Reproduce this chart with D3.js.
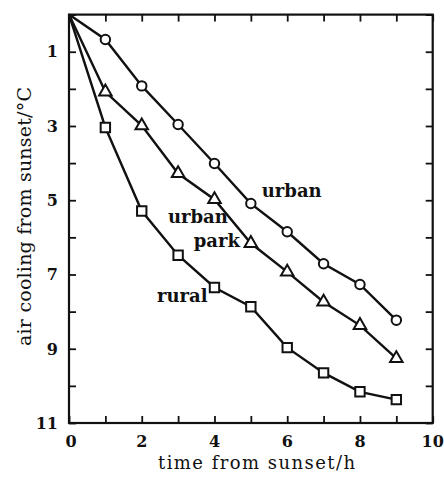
<!DOCTYPE html>
<html>
<head>
<meta charset="utf-8">
<script src="https://cdn.jsdelivr.net/npm/d3@7"></script>
<style>
    body { margin: 0; background: #fff; }
    svg { display: block; }
    text { font-family: "DejaVu Serif", serif; fill: #111; }
</style>
</head>
<body>
<div id="chart"></div>
<script>
// hours after sunset and the cooling of the air (°C) at each site
const hours = [0, 1, 2, 3, 4, 5, 6, 7, 8, 9];
const urban = [0, 0.67, 1.92, 2.96, 4.01, 5.09, 5.85, 6.71, 7.27, 8.23];
const urbanPark = [0, 2.08, 2.99, 4.28, 4.98, 6.16, 6.93, 7.74, 8.37, 9.26];
const rural = [0, 3.04, 5.29, 6.48, 7.35, 7.87, 8.97, 9.65, 10.16, 10.37];

const xTicks = [0, 1, 2, 3, 4, 5, 6, 7, 8, 9, 10];
const xTickLabels = [0, 2, 4, 6, 8, 10];
const yTicks = [0, 1, 2, 3, 4, 5, 6, 7, 8, 9, 10, 11];
const yTickLabels = [1, 3, 5, 7, 9, 11];

const seriesNames = ['urban', 'urban park', 'rural'];
const seriesSymbols = [d3.symbolCircle, d3.symbolTriangle, d3.symbolSquare];

// in-plot labels, placed in data units
const labelText = ['urban', 'urban', 'park', 'rural'];
const labelX = [5.3, 2.72, 3.43, 2.42];
const labelY = [4.9, 5.62, 6.25, 7.73];

const width = 444, height = 481;
const margin = {top: 14.6, right: 11.3, bottom: 58, left: 69};

const svg = d3.select('#chart').append('svg')
    .attr('width', width)
    .attr('height', height);

const x = d3.scaleLinear()
    .domain([0, 10])
    .range([margin.left, width - margin.right]);

const y = d3.scaleLinear()
    .domain([0, 11])
    .range([margin.top, height - margin.bottom]);

// frame
svg.append('rect')
    .attr('x', x(0))
    .attr('y', y(0))
    .attr('width', x(10) - x(0))
    .attr('height', y(11) - y(0))
    .attr('fill', 'none')
    .attr('stroke', '#111')
    .attr('stroke-width', 2.2);

// ticks point inward on every side
const tickLen = 7;
const axes = [
    d3.axisBottom(x).tickValues(xTicks).tickSize(-tickLen),
    d3.axisTop(x).tickValues(xTicks).tickSize(-tickLen),
    d3.axisLeft(y).tickValues(yTicks).tickSize(-tickLen),
    d3.axisRight(y).tickValues(yTicks).tickSize(-tickLen)
];
const shifts = [
    `translate(0,${y(11)})`,
    `translate(0,${y(0)})`,
    `translate(${x(0)},0)`,
    `translate(${x(10)},0)`
];
axes.forEach((ax, i) => {
    const g = svg.append('g')
        .attr('transform', shifts[i])
        .call(ax.tickSizeOuter(0).tickFormat(''));
    g.select('.domain').remove();
    g.selectAll('.tick line').attr('stroke', '#111').attr('stroke-width', 1.8);
});

// tick labels
svg.append('g').selectAll('text')
    .data(xTickLabels)
    .join('text')
        .attr('x', d => x(d) + (d === 0 ? 2 : 0))
        .attr('y', 447)
        .attr('text-anchor', 'middle')
        .attr('font-size', 16)
        .attr('font-weight', 'bold')
        .text(d => d);

svg.append('g').selectAll('text')
    .data(yTickLabels)
    .join('text')
        .attr('x', 58)
        .attr('y', d => y(d))
        .attr('dy', '0.36em')
        .attr('text-anchor', 'end')
        .attr('font-size', 16)
        .attr('font-weight', 'bold')
        .text(d => d);

// axis titles
svg.append('text')
    .attr('x', 256.5)
    .attr('y', 469)
    .attr('text-anchor', 'middle')
    .attr('font-size', 18)
    .attr('textLength', 197)
    .attr('lengthAdjust', 'spacing')
    .text('time from sunset/h');

svg.append('text')
    .attr('transform', 'translate(31,216.5) rotate(-90)')
    .attr('text-anchor', 'middle')
    .attr('font-size', 19)
    .attr('textLength', 259)
    .attr('lengthAdjust', 'spacing')
    .text('air cooling from sunset/°C');

// lines and markers
const seriesValues = [urban, urbanPark, rural];
const line = d3.line()
    .x((d, i) => x(hours[i]))
    .y(d => y(d));

const symbolSizes = [70, 68, 88];

seriesValues.forEach((vals, s) => {
    const g = svg.append('g').attr('class', 'series').attr('data-name', seriesNames[s]);

    g.append('path')
        .datum(vals)
        .attr('d', line)
        .attr('fill', 'none')
        .attr('stroke', '#111')
        .attr('stroke-width', 2.4);

    g.selectAll('path.marker')
        .data(vals.map((v, i) => ({h: hours[i], v})).filter(d => d.h > 0))
        .join('path')
            .attr('class', 'marker')
            .attr('transform', d => `translate(${x(d.h)},${y(d.v)})`)
            .attr('d', d3.symbol().type(seriesSymbols[s]).size(symbolSizes[s]))
            .attr('fill', '#fff')
            .attr('stroke', '#111')
            .attr('stroke-width', 2);
});

// series labels
svg.append('g').selectAll('text')
    .data(labelText)
    .join('text')
        .attr('x', (d, i) => x(labelX[i]))
        .attr('y', (d, i) => y(labelY[i]))
        .attr('font-size', 18)
        .attr('font-weight', 'bold')
        .text(d => d);
</script>
</body>
</html>
